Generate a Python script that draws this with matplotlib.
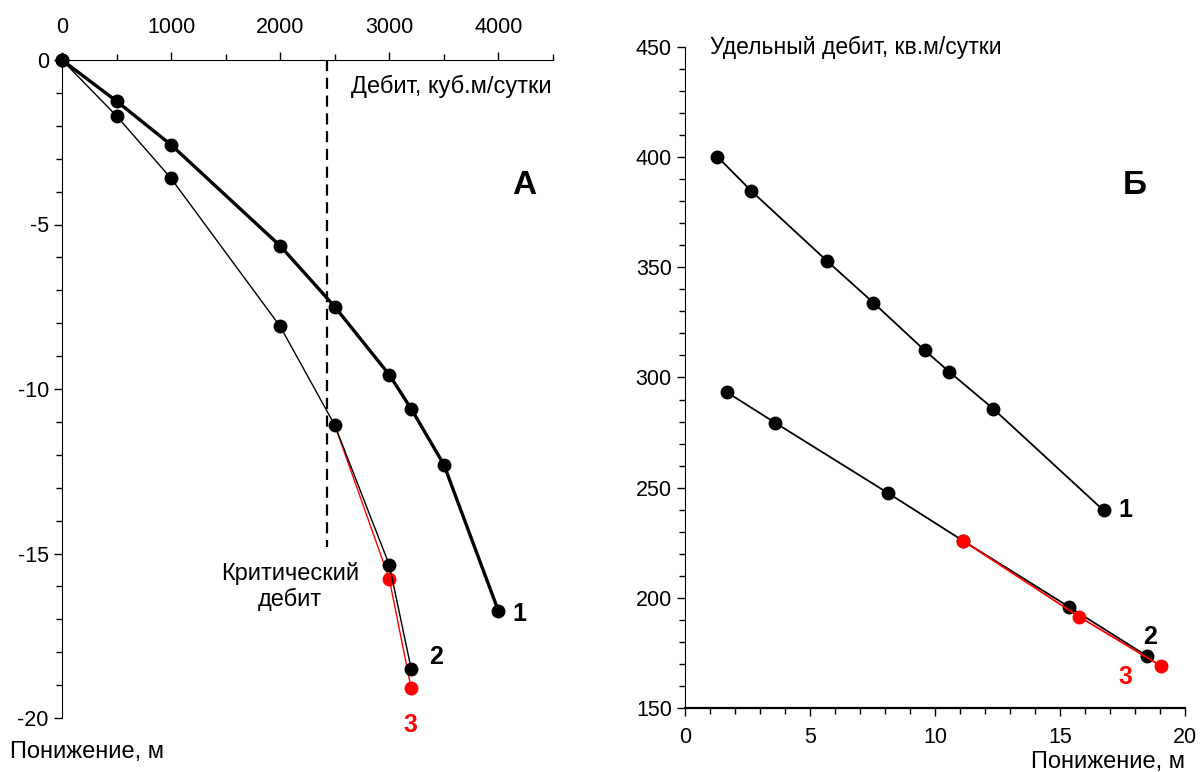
import matplotlib
matplotlib.use("Agg")
import matplotlib.pyplot as plt
from matplotlib.ticker import MultipleLocator

plt.rcParams['font.family'] = ['Liberation Sans', 'DejaVu Sans']
plt.rcParams['axes.unicode_minus'] = False

# Panel A: discharge vs drawdown
q1 = [0, 500, 1000, 2000, 2500, 3000, 3200, 3500, 4000]
s1 = [0, -1.25, -2.58, -5.65, -7.5, -9.57, -10.6, -12.3, -16.75]
q2 = [0, 500, 1000, 2000, 2500, 3000, 3200]
s2 = [0, -1.7, -3.6, -8.1, -11.1, -15.35, -18.5]
q3 = [2500, 3000, 3200]
s3 = [-11.1, -15.78, -19.1]
q_crit = 2430
s_crit_end = -14.8

# Panel Б: specific capacity vs drawdown
d1 = [1.29, 2.64, 5.67, 7.53, 9.58, 10.57, 12.32, 16.74]
c1 = [400.3, 384.8, 353.0, 334.0, 312.4, 302.6, 285.9, 239.7]
d2 = [1.69, 3.6, 8.1, 11.12, 15.36, 18.49]
c2 = [293.2, 279.5, 247.7, 225.9, 195.9, 173.5]
d3 = [11.12, 15.77, 19.05]
c3 = [225.9, 191.4, 169.0]

fs = 15.5
fl = 17
fig = plt.figure(figsize=(12, 7.72), dpi=100)

# ---------- Panel A ----------
axA = fig.add_axes([62/1200, 1-718/772, (553-62)/1200, (718-60)/772])
axA.set_xlim(0, 4500)
axA.set_ylim(-20, 0)
for sp in ['bottom', 'right']:
    axA.spines[sp].set_visible(False)
axA.xaxis.tick_top()
axA.xaxis.set_major_locator(MultipleLocator(1000))
axA.xaxis.set_minor_locator(MultipleLocator(500))
axA.yaxis.set_major_locator(MultipleLocator(5))
axA.yaxis.set_minor_locator(MultipleLocator(1))
axA.tick_params(axis='both', which='major', length=6, width=1, labelsize=fs, direction='out')
axA.tick_params(axis='both', which='minor', length=4, width=1, direction='out')
axA.tick_params(axis='x', pad=10)

axA.plot(q3, s3, color='red', lw=1.0, marker='o', ms=9, markevery=[1, 2], zorder=3, clip_on=False)
axA.plot(q1, s1, color='black', lw=2.4, marker='o', ms=9, zorder=4, clip_on=False)
axA.plot(q2, s2, color='black', lw=1.0, marker='o', ms=9, zorder=4, clip_on=False)
axA.plot([q_crit, q_crit], [0, s_crit_end], color='black', lw=1.6, ls=(0, (5, 3)), zorder=2)

axA.text(2650, -0.8, 'Дебит, куб.м/сутки', fontsize=fl, ha='left', va='center')
axA.text(4240, -3.8, 'А', fontsize=24, fontweight='bold', ha='center', va='center')
axA.text(2090, -16.0, 'Критический\nдебит', fontsize=fl, ha='center', va='center', linespacing=1.15)
axA.text(4190, -16.85, '1', fontsize=18, fontweight='bold', ha='center', va='center')
axA.text(3430, -18.15, '2', fontsize=18, fontweight='bold', ha='center', va='center')
axA.text(3190, -20.2, '3', fontsize=18, fontweight='bold', color='red', ha='center', va='center', clip_on=False)
fig.text(10/1200, 1-752/772, 'Понижение, м', fontsize=fl, ha='left', va='center')

# ---------- Panel Б ----------
axB = fig.add_axes([685/1200, 1-708/772, 500/1200, (708-47)/772])
axB.set_xlim(0, 20)
axB.set_ylim(150, 450)
for sp in ['top', 'right']:
    axB.spines[sp].set_visible(False)
axB.xaxis.set_major_locator(MultipleLocator(5))
axB.xaxis.set_minor_locator(MultipleLocator(1))
axB.yaxis.set_major_locator(MultipleLocator(50))
axB.yaxis.set_minor_locator(MultipleLocator(10))
axB.tick_params(axis='both', which='major', length=6, width=1, labelsize=fs, direction='out')
axB.tick_params(axis='both', which='minor', length=4, width=1, direction='out')
axB.tick_params(axis='x', pad=8)
axB.spines['bottom'].set_linewidth(1.6)

axB.plot(d1, c1, color='black', lw=1.3, marker='o', ms=9, zorder=3, clip_on=False)
axB.plot(d2, c2, color='black', lw=1.3, marker='o', ms=9, zorder=3, clip_on=False)
axB.plot(d3, c3, color='red', lw=1.3, marker='o', ms=9, zorder=4, clip_on=False)

axB.text(1.0, 450, 'Удельный дебит, кв.м/сутки', fontsize=16.5, ha='left', va='center')
axB.text(18.0, 387, 'Б', fontsize=24, fontweight='bold', ha='center', va='center')
axB.text(17.6, 240, '1', fontsize=18, fontweight='bold', ha='center', va='center')
axB.text(18.6, 182, '2', fontsize=18, fontweight='bold', ha='center', va='center')
axB.text(17.6, 164, '3', fontsize=18, fontweight='bold', color='red', ha='center', va='center')
fig.text(1185/1200, 1-762/772, 'Понижение, м', fontsize=fl, ha='right', va='center')

fig.savefig('out.png', dpi=100)
